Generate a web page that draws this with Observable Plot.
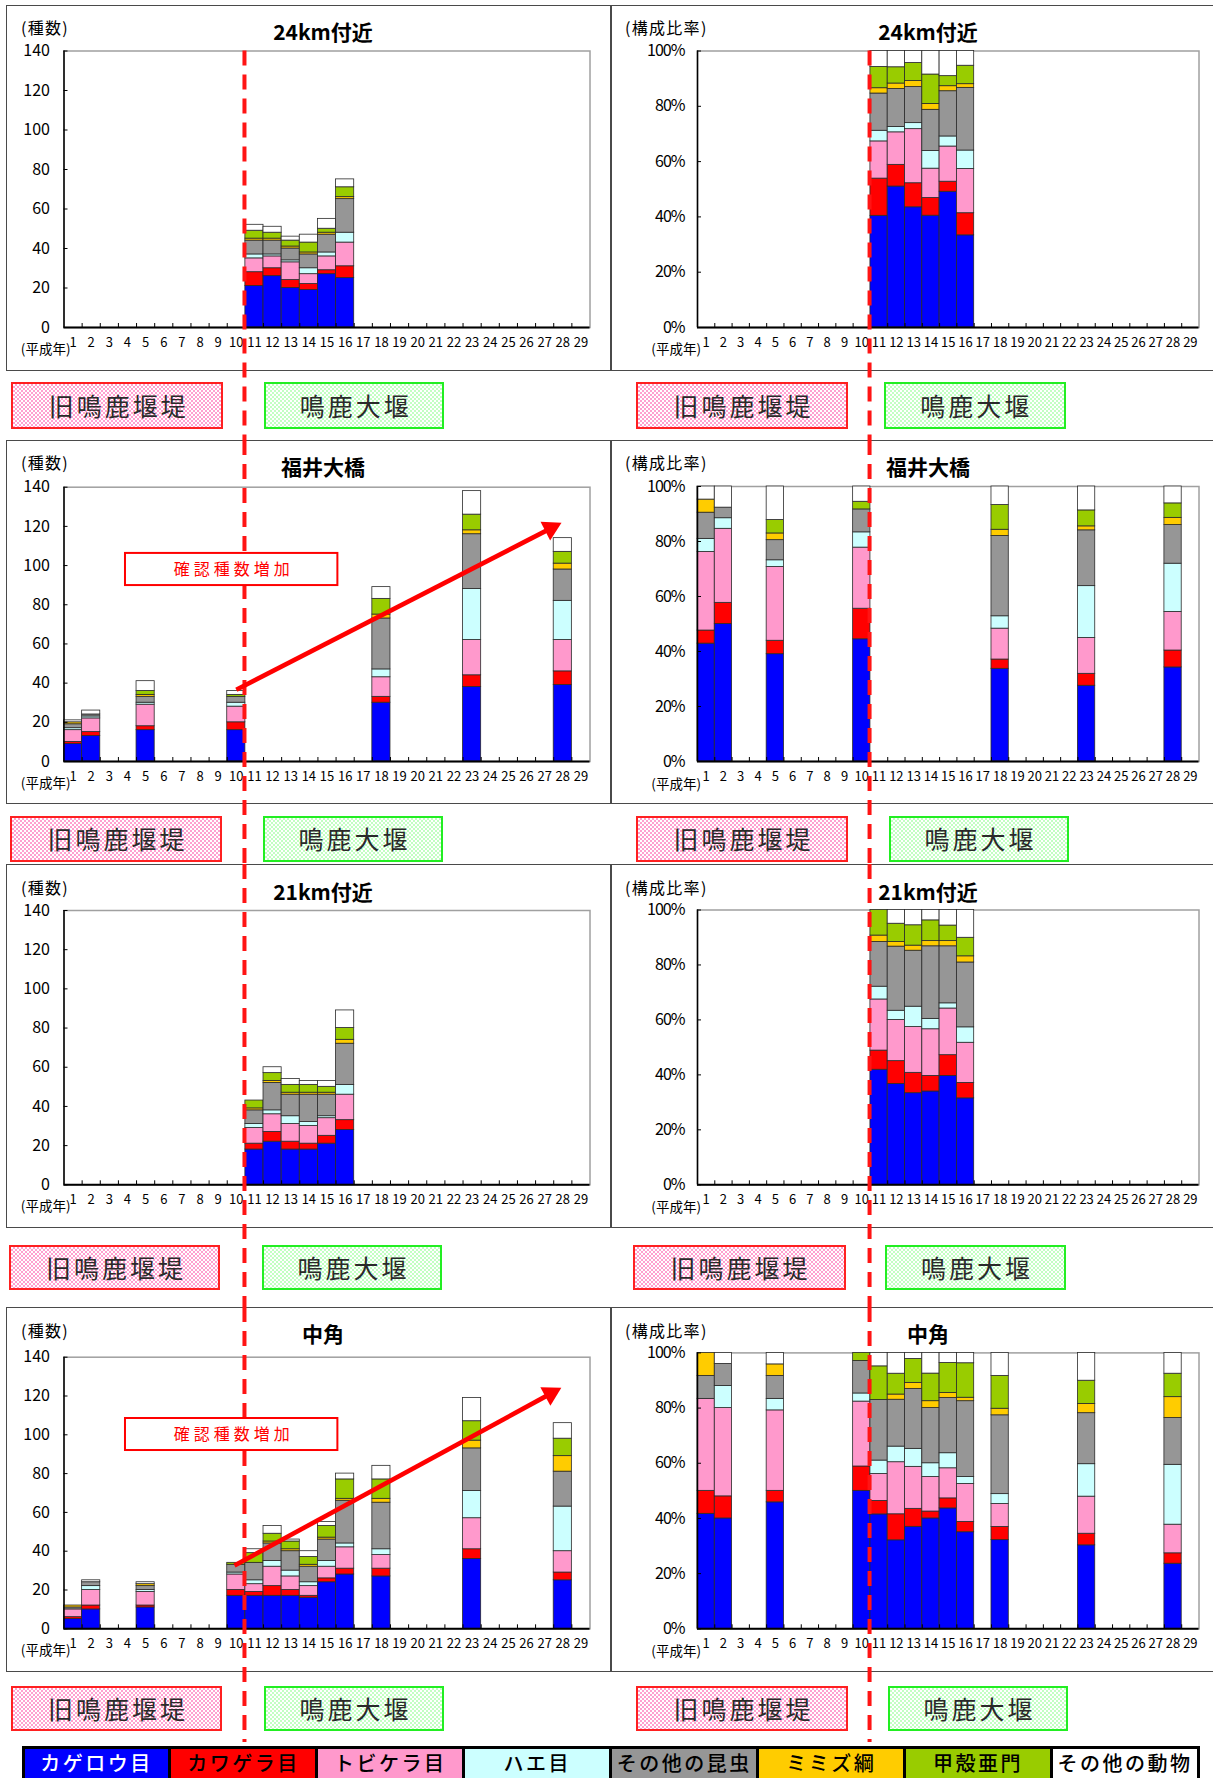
<!DOCTYPE html>
<html>
<head>
<meta charset="utf-8">
<script src="https://cdn.jsdelivr.net/npm/d3@7"></script>
<script src="https://cdn.jsdelivr.net/npm/@observablehq/plot@0.6"></script>
<style>
  html, body { margin: 0; padding: 0; }
  body { width: 1213px; height: 1778px; overflow: hidden; background: #fff; position: relative;
         font-family: "Noto Sans CJK JP", "Noto Sans", sans-serif; }
  .box { position: absolute; border: 1.5px solid #4a4a4a; box-sizing: border-box; }
  .lbl { position: absolute; box-sizing: border-box; display: flex; align-items: center; justify-content: center;
         font-size: 25px; letter-spacing: 3px; color: #2a2a2a; padding-left: 3px; line-height: 1.1; }
  .old { border: 2.5px solid #ff2020; background: repeating-conic-gradient(#ffa0cf 0 25%, #fff 0 50%) 0 0 / 4px 4px; }
  .new { border: 2.5px solid #22ee22; background: repeating-conic-gradient(#c2ffc2 0 25%, #fff 0 50%) 0 0 / 4px 4px; }
  .title { position: absolute; transform: translate(-50%, -50%); font-size: 21px; font-weight: 700; white-space: nowrap; color: #000; line-height: 1.1; }
  .unit { position: absolute; transform: translateY(-50%); font-size: 16px; letter-spacing: 1.3px; white-space: nowrap; color: #000; line-height: 1; }
  .heisei { position: absolute; transform: translate(-100%, -50%); font-size: 13.5px; white-space: nowrap; color: #000; line-height: 1; }
  .chart { position: absolute; }
  #legend { position: absolute; display: flex; }
  #legend div { box-sizing: border-box; height: 42px; border: 3px solid #000; display: flex; align-items: flex-start;
                justify-content: center; padding-top: 3px; font-size: 20px; line-height: 1.05; letter-spacing: 2.5px;
                font-weight: 500; white-space: nowrap; }
</style>
</head>
<body>
<script>
// ---------------- data ----------------
const categories = ["カゲロウ目", "カワゲラ目", "トビケラ目", "ハエ目", "その他の昆虫", "ミミズ綱", "甲殻亜門", "その他の動物"];
const categoryColors = ["#0000ff", "#ff0000", "#ff99cc", "#ccffff", "#969696", "#ffcc00", "#99cc00", "#ffffff"];
const legendTextColors = ["#ffffff", "#000000", "#000000", "#000000", "#000000", "#000000", "#000000", "#000000"];

const yearTicks = [1, 2, 3, 4, 5, 6, 7, 8, 9, 10, 11, 12, 13, 14, 15, 16, 17, 18, 19, 20, 21, 22, 23, 24, 25, 26, 27, 28, 29];
const countTicks = [0, 20, 40, 60, 80, 100, 120, 140];
const ratioTicks = [0, 0.2, 0.4, 0.6, 0.8, 1];

const siteNames = ["24km付近", "福井大橋", "21km付近", "中角"];
const countUnit = "(種数)";
const ratioUnit = "(構成比率)";
const yearUnit = "(平成年)";
const oldWeir = "旧鳴鹿堰堤";
const newWeir = "鳴鹿大堰";
const trendLabel = "確認種数増加";

// species counts per year, in category order
const years24km = [11, 12, 13, 14, 15, 16];
const counts24km = [
  [21, 7, 7, 2, 7, 1, 4, 3],
  [26, 4, 6, 1, 7, 1, 3, 3],
  [20, 4, 9, 1, 6, 1, 3, 2],
  [19, 3, 5, 3, 7, 1, 5, 4],
  [27, 2, 7, 2, 9, 1, 2, 5],
  [25, 6, 12, 5, 17, 1, 5, 4]
];
const yearsFukui = [1, 2, 5, 10, 18, 23, 28];
const countsFukui = [
  [9, 1, 6, 1, 2, 1, 0, 1],
  [13, 2, 7, 1, 1, 0, 0, 2],
  [16, 2, 11, 1, 3, 1, 2, 5],
  [16, 4, 8, 2, 3, 0, 1, 2],
  [30, 3, 10, 4, 26, 2, 8, 6],
  [38, 6, 18, 26, 28, 2, 8, 12],
  [39, 7, 16, 20, 16, 3, 6, 7]
];
const years21km = [11, 12, 13, 14, 15, 16];
const counts21km = [
  [18, 3, 8, 2, 7, 1, 4, 0],
  [22, 5, 9, 2, 14, 1, 4, 3],
  [18, 4, 9, 4, 11, 1, 4, 3],
  [18, 3, 9, 2, 14, 1, 4, 2],
  [21, 4, 9, 1, 11, 1, 3, 3],
  [28, 5, 13, 5, 21, 2, 6, 9]
];
const yearsNakatsuno = [1, 2, 5, 10, 11, 12, 13, 14, 15, 16, 18, 23, 28];
const countsNakatsuno = [
  [5, 1, 4, 0, 1, 1, 0, 0],
  [10, 2, 8, 2, 2, 0, 0, 1],
  [11, 1, 7, 1, 2, 1, 0, 1],
  [17, 3, 8, 1, 4, 0, 1, 0],
  [17, 2, 4, 2, 9, 0, 5, 2],
  [17, 5, 10, 3, 9, 1, 4, 4],
  [17, 3, 7, 3, 10, 1, 4, 1],
  [16, 1, 5, 2, 8, 1, 4, 3],
  [24, 2, 6, 3, 11, 1, 6, 2],
  [28, 3, 11, 2, 22, 1, 10, 3],
  [27, 4, 7, 3, 24, 2, 10, 7],
  [36, 5, 16, 14, 22, 4, 10, 12],
  [25, 4, 11, 23, 18, 8, 9, 8]
];
// trend arrows (year, species count)
const trendFukuiYear = [10.0, 27.93];
const trendFukuiCount = [36.6, 121.8];
const trendNakaYear = [9.9, 27.92];
const trendNakaCount = [32.6, 124.2];
const weirChangeYear = 10.45;

// ---------------- layout ----------------
const rowsLayout = [
  {svgTop: 4.5, svgBottom: 440, plotTopL: 50, plotTopR: 50, plotBottom: 326.5, boxTop: 4.5, boxBottom: 371,
   lblTop: 382, lblBottom: 428.5, titleY: 31.7, unitY: 26.5, first: true,
   lblL: [[11.3, 223.3], [264, 444.4]], lblR: [[636, 848], [884, 1065.6]]},
  {svgTop: 440, svgBottom: 864, plotTopL: 486.7, plotTopR: 486, plotBottom: 761, boxTop: 440, boxBottom: 804,
   lblTop: 816, lblBottom: 861.5, titleY: 466.7, unitY: 462.3,
   lblL: [[10, 222], [263, 443]], lblR: [[636, 848], [889, 1069]]},
  {svgTop: 864, svgBottom: 1307, plotTopL: 910, plotTopR: 909.5, plotBottom: 1184.3, boxTop: 864, boxBottom: 1228,
   lblTop: 1245, lblBottom: 1290, titleY: 891.7, unitY: 886.5,
   lblL: [[9, 220], [262, 442]], lblR: [[632.5, 845.7], [885, 1066]]},
  {svgTop: 1307, svgBottom: 1742, plotTopL: 1356.7, plotTopR: 1352.4, plotBottom: 1628.3, boxTop: 1307, boxBottom: 1672,
   lblTop: 1686, lblBottom: 1731, titleY: 1334.3, unitY: 1329.5,
   lblL: [[11, 222], [264, 444]], lblR: [[636, 848], [888, 1068]]}
];
const notePos = {x1: 3.89, x2: 15.6};
const panels = [
  {name: siteNames[0], years: years24km, counts: counts24km},
  {name: siteNames[1], years: yearsFukui, counts: countsFukui, trend: {x: trendFukuiYear, y: trendFukuiCount}, note: {...notePos, y1: 89.8, y2: 106.2}},
  {name: siteNames[2], years: years21km, counts: counts21km},
  {name: siteNames[3], years: yearsNakatsuno, counts: countsNakatsuno, trend: {x: trendNakaYear, y: trendNakaCount}, note: {...notePos, y1: 91.9, y2: 108.4}}
];

const FONT = '"Noto Sans CJK JP", "Noto Sans", sans-serif';

function addDiv(cls, css, text) {
  const d = document.createElement("div");
  d.className = cls;
  Object.assign(d.style, css);
  if (text != null) d.textContent = text;
  document.body.appendChild(d);
  return d;
}

function makeChart(p, row, side) {
  const L = side === "L";
  const ratio = !L;
  const width = L ? 610 : 603;
  const ml = L ? 63.5 : 87, mr = L ? 20.5 : 14.5;
  const plotTop = L ? row.plotTopL : row.plotTopR;
  const height = row.svgBottom - row.svgTop;
  const mt = plotTop - row.svgTop, mb = row.svgBottom - row.plotBottom;
  const ymax = ratio ? 1 : 140;
  const k = (row.plotBottom - plotTop) / ymax;
  const bw = (width - ml - mr) / 29;
  const ticks = ratio ? ratioTicks : countTicks;

  const segs = [];
  p.years.forEach((yr, i) => {
    const vals = p.counts[i];
    const total = d3.sum(vals);
    let acc = 0;
    vals.forEach((v, c) => {
      const a = acc; acc += v;
      if (v > 0) segs.push({year: yr, cat: categories[c], y1: ratio ? a / total : a, y2: ratio ? acc / total : acc});
    });
  });
  const bounds = yearTicks.slice(0, -1).map(y => y + 0.5);

  const marks = [
    Plot.frame({stroke: "#a0a0a0", strokeWidth: 1.5}),
    Plot.rect(segs, {x1: d => d.year - 0.5, x2: d => d.year + 0.5, y1: "y1", y2: "y2", fill: "cat", stroke: "#2a2a2a", strokeWidth: 0.8}),
    Plot.ruleY([0], {stroke: "#000", strokeWidth: 2}),
    Plot.ruleX([0.5], {stroke: "#000", strokeWidth: 1.5}),
    Plot.ruleY(ticks, {x1: 0.5, x2: 0.5 + 4 / bw, stroke: "#000", strokeWidth: 1}),
    Plot.ruleX(bounds, {y1: 0, y2: 4 / k, stroke: "#000", strokeWidth: 1}),
    Plot.axisY({ticks, tickSize: 0, tickPadding: L ? 14 : 13, fontSize: 16, label: null,
                tickFormat: ratio ? d3.format(".0%") : d3.format("d")}),
    Plot.axisX({ticks: yearTicks, tickSize: 0, tickPadding: 10, fontSize: 13, label: null, tickFormat: d => String(d)}),
    Plot.ruleX([weirChangeYear], {y1: row.first ? ymax : ymax + mt / k, y2: -mb / k, stroke: "#ff1414", strokeWidth: 4, strokeDasharray: "15,9"})
  ];
  if (L && p.note) {
    marks.push(Plot.rect([p.note], {x1: "x1", x2: "x2", y1: "y1", y2: "y2", fill: "#fff", stroke: "#ff0000", strokeWidth: 2}));
    marks.push(Plot.text([p.note], {x: d => (d.x1 + d.x2) / 2, y: d => (d.y1 + d.y2) / 2, text: () => trendLabel,
                                     fill: "#ff0000", fontSize: 16, dx: 2}));
  }
  if (L && p.trend) {
    const [x0, x1] = p.trend.x, [y0, y1] = p.trend.y;
    const dxp = (x1 - x0) * bw, dyp = (y1 - y0) * k;
    const len = Math.hypot(dxp, dyp), ux = dxp / len, uy = dyp / len;
    const s = 21, back = s / Math.sqrt(3);
    const cx = x1 - back * ux / bw, cy = y1 - back * uy / k;
    const rot = Math.atan2(ux, uy) * 180 / Math.PI;
    const arrow = [{x0, y0, cx, cy}];
    marks.push(Plot.link(arrow, {x1: "x0", y1: "y0", x2: "cx", y2: "cy", stroke: "#ff0000", strokeWidth: 4.6}));
    marks.push(Plot.dot(arrow, {x: "cx", y: "cy", symbol: "triangle", r: Math.sqrt((Math.sqrt(3) / 4 * s * s) / Math.PI),
                                rotate: rot, fill: "#ff0000", stroke: "none"}));
  }

  const svg = Plot.plot({
    width, height, marginLeft: ml, marginRight: mr, marginTop: mt, marginBottom: mb,
    x: {domain: [0.5, 29.5]},
    y: {domain: [0, ymax]},
    color: {domain: categories, range: categoryColors},
    style: {fontFamily: FONT, background: "transparent", overflow: "visible", color: "#000"},
    marks
  });
  d3.select(svg).selectAll("text").filter(function () { return this.textContent === trendLabel; })
    .attr("letter-spacing", "4px");
  if (ratio) d3.select(svg).selectAll("g[aria-label='y-axis tick label'] text").attr("letter-spacing", "-1px");
  svg.classList.add("chart");
  svg.style.left = (L ? 0 : 610) + "px";
  svg.style.top = row.svgTop + "px";
  document.body.appendChild(svg);
}

// panel boxes
rowsLayout.forEach(row => {
  addDiv("box", {left: "6px", top: row.boxTop + "px", width: "605.5px", height: (row.boxBottom - row.boxTop) + "px"});
  addDiv("box", {left: "610px", top: row.boxTop + "px", width: "640px", height: (row.boxBottom - row.boxTop) + "px"});
});

panels.forEach((p, i) => {
  const row = rowsLayout[i];
  // titles and unit labels
  addDiv("title", {left: "323px", top: row.titleY + "px"}, p.name);
  addDiv("title", {left: "928px", top: row.titleY + "px"}, p.name);
  addDiv("unit", {left: "21px", top: row.unitY + "px"}, countUnit);
  addDiv("unit", {left: "625px", top: row.unitY + "px"}, ratioUnit);
  addDiv("heisei", {left: "70.5px", top: (row.plotBottom + 22) + "px"}, yearUnit);
  addDiv("heisei", {left: "701px", top: (row.plotBottom + 22.5) + "px"}, yearUnit);
  // weir labels
  const mk = (span, cls, text) => addDiv("lbl " + cls, {left: span[0] + "px", top: row.lblTop + "px",
    width: (span[1] - span[0]) + "px", height: (row.lblBottom - row.lblTop) + "px"}, text);
  mk(row.lblL[0], "old", oldWeir); mk(row.lblL[1], "new", newWeir);
  mk(row.lblR[0], "old", oldWeir); mk(row.lblR[1], "new", newWeir);
  makeChart(p, row, "L");
  makeChart(p, row, "R");
});

// legend
const legend = addDiv("", {left: "21.5px", top: "1746px"});
legend.id = "legend";
const cellW = (1197 - 21.5) / categories.length;
categories.forEach((c, i) => {
  const d = document.createElement("div");
  d.textContent = c;
  Object.assign(d.style, {width: (cellW + 3) + "px", marginLeft: i ? "-3px" : "0", background: categoryColors[i], color: legendTextColors[i]});
  legend.appendChild(d);
});
</script>
</body>
</html>
